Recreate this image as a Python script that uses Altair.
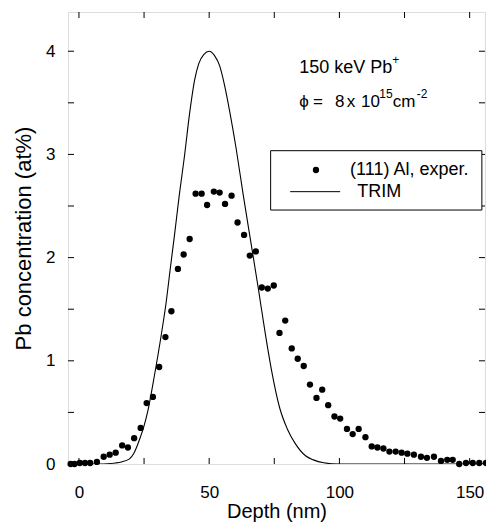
import altair as alt
import pandas as pd

# ---------------- data ----------------
exp_depth = [-3.2, -1.7, 0.3, 2.3, 4.3, 6.9, 9.5, 11.8, 14.1, 16.6,
             18.8, 21.2, 23.7, 26.0, 28.4, 30.8, 33.2, 35.5, 38.0, 40.2,
             42.5, 44.8, 47.1, 49.2, 51.8, 54.0, 56.1, 58.6, 60.9, 63.4,
             65.6, 67.9, 70.2, 72.5, 74.8, 77.0, 79.2, 81.7, 84.0, 86.3,
             88.7, 91.2, 93.4, 95.7, 98.1, 100.3, 102.9, 105.1, 107.4, 110.0,
             112.4, 114.6, 116.9, 119.2, 121.6, 123.9, 126.1, 128.6, 131.3, 133.6,
             136.3, 139.0, 141.4, 143.5, 146.0, 148.6, 151.2, 153.7, 156.3, 158.6]
exp_conc = [0.0, 0.0, 0.01, 0.01, 0.01, 0.02, 0.07, 0.09, 0.11, 0.18,
            0.16, 0.25, 0.35, 0.59, 0.65, 0.94, 1.23, 1.48, 1.89, 2.03,
            2.18, 2.62, 2.62, 2.51, 2.64, 2.63, 2.52, 2.60, 2.34, 2.22,
            2.02, 2.06, 1.71, 1.70, 1.73, 1.27, 1.39, 1.12, 1.02, 0.95,
            0.77, 0.64, 0.72, 0.57, 0.46, 0.44, 0.34, 0.29, 0.34, 0.26,
            0.17, 0.16, 0.15, 0.12, 0.12, 0.11, 0.10, 0.09, 0.07, 0.06,
            0.07, 0.03, 0.04, 0.04, 0.00, 0.01, 0.01, 0.01, 0.01, 0.02]

trim_depth = [-4.2, 8, 11, 14, 16.3, 19.4, 21.2, 23.3, 25, 26.5,
              29, 31.6, 33.5, 35, 36.7, 38.5, 40.5, 42.5, 44.4, 46,
              48, 50, 52, 54, 56, 58, 60.4, 63, 66, 69,
              71.5, 74, 77, 80, 83, 87, 90, 94, 100, 105, 159]
trim_conc = [0, 0, 0.003, 0.01, 0.02, 0.05, 0.11, 0.24, 0.37, 0.52,
             0.86, 1.25, 1.57, 1.88, 2.22, 2.6, 2.98, 3.4, 3.72, 3.88,
             3.97, 4.0, 3.96, 3.86, 3.66, 3.40, 3.05, 2.62, 2.15, 1.68,
             1.27, 0.90, 0.55, 0.34, 0.20, 0.08, 0.04, 0.012, 0.0, 0, 0]

x_ticks = [0, 25, 50, 75, 100, 125, 150]
y_ticks = [0, 0.5, 1, 1.5, 2, 2.5, 3, 3.5, 4]
x_domain = [-4.2, 155.9]
y_domain = [0, 4.38]

# annotation pieces
ann_line1 = ["150 keV Pb", "+"]
ann_line2 = ["ϕ", "=", "8", "x", "10", "15", "cm", "-2"]
ann_sup1 = [False, True]
ann_sup2 = [False, False, False, False, False, True, False, True]
legend_labels = ["(111) Al, exper.", "TRIM"]

# ---------------- layout constants ----------------
FONT = "Liberation Sans"

ann_x1 = [84.6, 120.3]
ann_x2 = [84.62, 89.9, 98.33, 102.83, 108.32, 115.3, 120.5, 129.7]
ann_base_y = [3.789, 3.464]
ann_size = [18, 17]
sup_rise = 0.087

leg_box = {"x": 73.6, "x2": 154.7, "y": 2.461, "y2": 3.036}
leg_dot = {"x": 91.0, "y": 2.849}
leg_rule = {"x": 81.1, "x2": 100.3, "y": 2.639}
leg_text_x = [104.1, 106.9]
leg_text_y = [2.849, 2.639]

exp_df = pd.DataFrame({"depth": exp_depth, "conc": exp_conc})
trim_df = pd.DataFrame({"depth": trim_depth, "conc": trim_conc})

rows = []
for i, (line, xs_, sups) in enumerate([(ann_line1, ann_x1, ann_sup1),
                                        (ann_line2, ann_x2, ann_sup2)]):
    for txt, xx, sup in zip(line, xs_, sups):
        rows.append({"t": txt, "x": xx,
                     "y": ann_base_y[i] + (sup_rise if sup else 0),
                     "sup": sup, "fs": 12 if sup else ann_size[i]})
ann_df = pd.DataFrame(rows).drop(columns="sup")

box_df = pd.DataFrame([leg_box])
dot_df = pd.DataFrame([leg_dot])
rule_df = pd.DataFrame([leg_rule])
legtext_df = pd.DataFrame({"x": leg_text_x, "y": leg_text_y, "t": legend_labels})

# inward tick marks on all four sides
xtick_df = pd.DataFrame({"x": x_ticks * 2,
                         "y": [y_domain[0]] * len(x_ticks) + [y_domain[1]] * len(x_ticks)})
ytick_df = pd.DataFrame({"y": y_ticks * 2,
                         "x": [x_domain[0]] * len(y_ticks) + [x_domain[1]] * len(y_ticks)})

xs = alt.Scale(domain=x_domain, nice=False, zero=False)
ys = alt.Scale(domain=y_domain, nice=False, zero=False)

common = dict(grid=False, domain=False, ticks=False, labelColor="black",
              titleColor="black", labelFont=FONT, titleFont=FONT,
              labelOverlap=False, labelFlush=False, titleFontWeight="normal")

x_axis = alt.Axis(values=x_ticks,
                  labelExpr="datum.value % 50 === 0 ? format(datum.value, 'd') : ''",
                  labelPadding=20, title="Depth (nm)", titleFontSize=20,
                  labelFontSize=17, titlePadding=1, **common)
y_axis = alt.Axis(values=y_ticks,
                  labelExpr="datum.value % 1 === 0 ? format(datum.value, 'd') : ''",
                  labelPadding=13, title="Pb concentration (at%)", titleFontSize=22,
                  labelFontSize=17, titlePadding=10, **common)

trim_line = alt.Chart(trim_df).mark_line(
    color="black", strokeWidth=1.1, interpolate="monotone", clip=True
).encode(
    x=alt.X("depth:Q", scale=xs, axis=x_axis),
    y=alt.Y("conc:Q", scale=ys, axis=y_axis),
)

xticks_mark = alt.Chart(xtick_df).mark_tick(
    orient="vertical", size=12, thickness=1, color="black", opacity=1, clip=True
).encode(
    x=alt.X("x:Q", scale=xs, axis=None),
    y=alt.Y("y:Q", scale=ys, axis=None),
)
yticks_mark = alt.Chart(ytick_df).mark_tick(
    orient="horizontal", size=12, thickness=1, color="black", opacity=1, clip=True
).encode(
    x=alt.X("x:Q", scale=xs, axis=None),
    y=alt.Y("y:Q", scale=ys, axis=None),
)

points = alt.Chart(exp_df).mark_circle(size=40, color="black", opacity=1).encode(
    x=alt.X("depth:Q", scale=xs, axis=None),
    y=alt.Y("conc:Q", scale=ys, axis=None),
)

ann_text = alt.Chart(ann_df).mark_text(
    align="left", baseline="alphabetic", font=FONT, color="black"
).encode(
    x=alt.X("x:Q", scale=xs, axis=None),
    y=alt.Y("y:Q", scale=ys, axis=None),
    text="t:N",
    size=alt.Size("fs:Q", scale=None, legend=None),
)

box = alt.Chart(box_df).mark_rect(fill="white", stroke="black", strokeWidth=1).encode(
    x=alt.X("x:Q", scale=xs, axis=None), x2="x2:Q",
    y=alt.Y("y:Q", scale=ys, axis=None), y2="y2:Q",
)
leg_point = alt.Chart(dot_df).mark_circle(size=40, color="black", opacity=1).encode(
    x=alt.X("x:Q", scale=xs, axis=None),
    y=alt.Y("y:Q", scale=ys, axis=None),
)
leg_line = alt.Chart(rule_df).mark_rule(color="black", strokeWidth=1).encode(
    x=alt.X("x:Q", scale=xs, axis=None), x2="x2:Q",
    y=alt.Y("y:Q", scale=ys, axis=None),
)
leg_text = alt.Chart(legtext_df).mark_text(
    align="left", baseline="middle", font=FONT, fontSize=18, color="black"
).encode(
    x=alt.X("x:Q", scale=xs, axis=None),
    y=alt.Y("y:Q", scale=ys, axis=None),
    text="t:N",
)

chart = alt.layer(
    trim_line, xticks_mark, yticks_mark, points, ann_text,
    box, leg_point, leg_line, leg_text
).resolve_axis(
    x="independent", y="independent"
).properties(
    width=417, height=452,
    padding={"left": 60, "top": 4, "right": 1, "bottom": 59},
    autosize=alt.AutoSizeParams(type="none"),
    background="white",
).configure_view(
    stroke="black", strokeWidth=1.2
).configure(font=FONT)

chart.save("out.html", embed_options={"renderer": "svg", "actions": False})
